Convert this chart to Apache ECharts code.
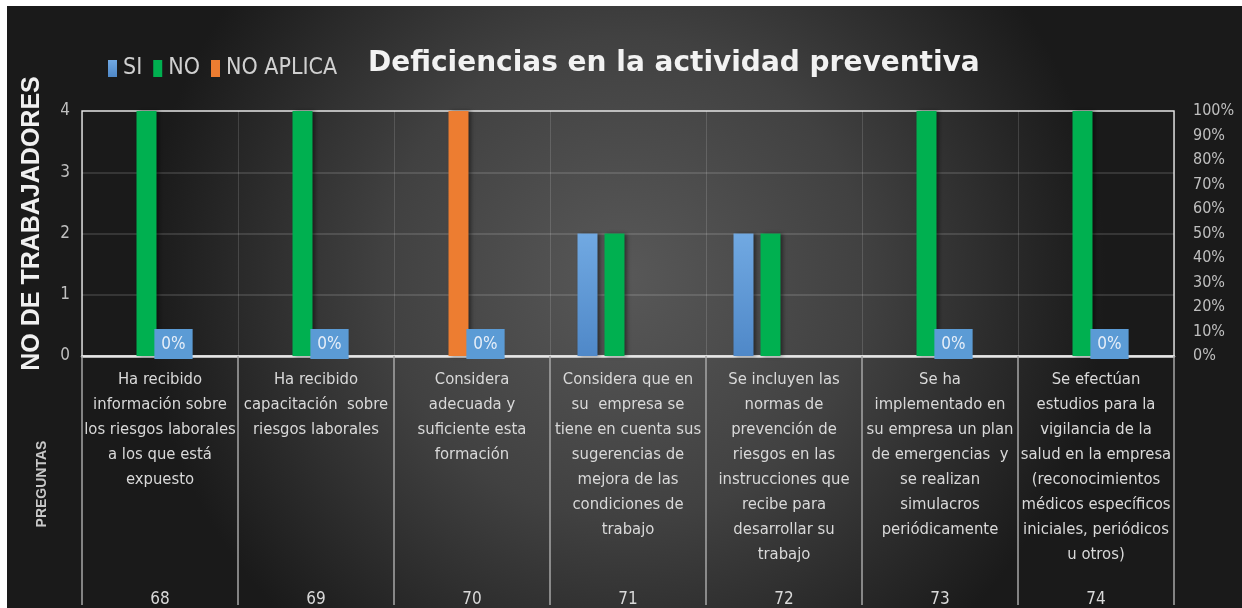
<!DOCTYPE html>
<html>
<head>
<meta charset="utf-8">
<script src="https://cdn.jsdelivr.net/npm/echarts@6/dist/echarts.min.js"></script>
<style>
  html, body { margin: 0; padding: 0; background: #fff; }
  #chart { position: absolute; left: 7px; top: 6px; width: 1235px; height: 602px; }
</style>
</head>
<body>
<div id="chart"></div>
<script>
  // datos
  var preguntas = [
    'Ha recibido\ninformación sobre\nlos riesgos laborales\na los que está\nexpuesto',
    'Ha recibido\ncapacitación  sobre\nriesgos laborales',
    'Considera\nadecuada y\nsuficiente esta\nformación',
    'Considera que en\nsu  empresa se\ntiene en cuenta sus\nsugerencias de\nmejora de las\ncondiciones de\ntrabajo',
    'Se incluyen las\nnormas de\nprevención de\nriesgos en las\ninstrucciones que\nrecibe para\ndesarrollar su\ntrabajo',
    'Se ha\nimplementado en\nsu empresa un plan\nde emergencias  y\nse realizan\nsimulacros\nperiódicamente',
    'Se efectúan\nestudios para la\nvigilancia de la\nsalud en la empresa\n(reconocimientos\nmédicos específicos\niniciales, periódicos\nu otros)'
  ]
  var numeros = ['68', '69', '70', '71', '72', '73', '74']
  var si = [0, 0, 0, 2, 2, 0, 0]
  var no = [4, 4, 0, 2, 2, 4, 4]
  var noAplica = [0, 0, 4, 0, 0, 0, 0]
  var porcentaje = [0, 0, 0, null, null, 0, 0]
  var vacio = [null, null, null, null, null, null, null]

  var narrow = '"DejaVu Sans Condensed", sans-serif'

  var chart = echarts.init(document.getElementById('chart'))
  let option = {
    animation: false,
    backgroundColor: new echarts.graphic.RadialGradient(0.5, 0.45, 0.8, [
      { offset: 0, color: '#585858' },
      { offset: 0.5, color: '#414141' },
      { offset: 1, color: '#1a1a1a' }
    ]),
    title: {
      text: 'Deficiencias en la actividad preventiva',
      left: 356,
      top: 39,
      textStyle: {
        color: '#f2f2f2',
        fontFamily: '"DejaVu Sans", sans-serif',
        fontWeight: 'bold',
        fontSize: 28
      }
    },
    legend: {
      data: ['SI', 'NO', 'NO APLICA'],
      left: 96,
      top: 46,
      itemWidth: 9,
      itemHeight: 17,
      itemGap: 11,
      icon: 'rect',
      textStyle: {
        color: '#d0d0d0',
        fontFamily: narrow,
        fontSize: 23,
        padding: [0, 0, 0, 1]
      }
    },
    grid: {
      left: 75,
      top: 105,
      width: 1092,
      height: 248,
      show: true,
      borderColor: '#d9d9d9',
      borderWidth: 1.5
    },
    xAxis: [{
      type: 'category',
      data: preguntas,
      axisLine: { lineStyle: { color: '#e6e6e6', width: 2.5 } },
      axisTick: { show: true, length: 249, lineStyle: { color: '#a6a6a6', width: 1.5 } },
      splitLine: { show: true, lineStyle: { color: 'rgba(255,255,255,0.14)', width: 1 } },
      axisLabel: {
        interval: 0,
        margin: 11,
        color: '#d9d9d9',
        fontFamily: narrow,
        fontSize: 16.5,
        lineHeight: 25,
        verticalAlign: 'top'
      }
    }, {
      type: 'category',
      position: 'bottom',
      offset: 235,
      data: numeros,
      axisLine: { show: false },
      axisTick: { show: false },
      axisLabel: {
        interval: 0,
        margin: 0,
        color: '#d9d9d9',
        fontFamily: narrow,
        fontSize: 17
      }
    }],
    yAxis: [{
      type: 'value',
      min: 0,
      max: 4,
      interval: 1,
      name: 'NO DE TRABAJADORES',
      nameLocation: 'middle',
      nameRotate: 90,
      nameGap: 37,
      nameTextStyle: {
        color: '#f0f0f0',
        fontFamily: '"Liberation Sans", Arial, sans-serif',
        fontWeight: 'bold',
        fontSize: 25,
        padding: [0, 0, 0, 20]
      },
      axisLine: { show: false },
      axisTick: { show: false },
      splitLine: { lineStyle: { color: 'rgba(255,255,255,0.17)', width: 1.5 } },
      axisLabel: {
        margin: 12,
        color: '#bfbfbf',
        fontFamily: narrow,
        fontSize: 17
      }
    }, {
      type: 'value',
      min: 0,
      max: 1,
      interval: 0.1,
      axisLine: { show: false },
      axisTick: { show: false },
      splitLine: { show: false },
      axisLabel: {
        margin: 19,
        color: '#bfbfbf',
        fontFamily: narrow,
        fontSize: 16,
        formatter: function (v) { return Math.round(v * 100) + '%' }
      }
    }],
    series: [{
      name: 'SI',
      type: 'bar',
      data: si,
      barWidth: 20,
      barGap: '35%',
      itemStyle: {
        color: new echarts.graphic.LinearGradient(0, 0, 0, 1, [
          { offset: 0, color: '#71a9e2' },
          { offset: 1, color: '#4f88c8' }
        ]),
        shadowColor: 'rgba(0,0,0,0.45)',
        shadowBlur: 4,
        shadowOffsetX: 2
      }
    }, {
      name: 'NO',
      type: 'bar',
      stack: 'no',
      data: no,
      barWidth: 20,
      barGap: '35%',
      itemStyle: {
        color: '#00b050',
        shadowColor: 'rgba(0,0,0,0.45)',
        shadowBlur: 4,
        shadowOffsetX: 2
      }
    }, {
      name: 'NO APLICA',
      type: 'bar',
      stack: 'no',
      data: noAplica,
      barWidth: 20,
      barGap: '35%',
      itemStyle: {
        color: '#ed7d31',
        shadowColor: 'rgba(0,0,0,0.45)',
        shadowBlur: 4,
        shadowOffsetX: 2
      }
    }, {
      name: 'PORCENTAJE',
      type: 'bar',
      yAxisIndex: 1,
      data: porcentaje,
      barWidth: 20,
      barGap: '35%',
      itemStyle: { color: '#5b9bd5' },
      label: {
        show: true,
        position: 'top',
        distance: -3,
        formatter: function (p) { return Math.round(p.value * 100) + '%' },
        color: '#e6eef8',
        fontFamily: narrow,
        fontSize: 17,
        backgroundColor: '#5b9bd5',
        padding: [7, 7, 6, 7]
      }
    }, {
      name: 'vacio',
      type: 'bar',
      data: vacio,
      barWidth: 20,
      barGap: '35%'
    }],
    graphic: [{
      type: 'text',
      x: 35,
      y: 478,
      rotation: Math.PI / 2,
      style: {
        text: 'PREGUNTAS',
        fill: '#c8c8c8',
        font: 'bold 14px "Liberation Sans", Arial, sans-serif',
        align: 'center',
        verticalAlign: 'middle'
      }
    }]
  }
  chart.setOption(option)
</script>
</body>
</html>
